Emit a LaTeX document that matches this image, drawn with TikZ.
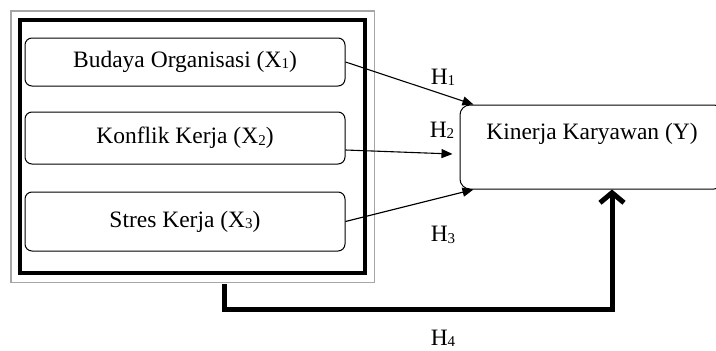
\documentclass[tikz,border=0pt]{standalone}
\usepackage{fontspec}
\setmainfont{Liberation Serif}
\usetikzlibrary{arrows.meta}

\newcommand{\idx}[1]{\raisebox{-0.12ex}{\fontsize{15}{15}\selectfont #1}}

\begin{document}
\begin{tikzpicture}[x=1pt, y=-1pt,
  every node/.style={font=\fontsize{23.5}{28}\selectfont, inner sep=0pt},
  var/.style={draw, rounded corners=7pt, line width=1pt, minimum width=320pt},
  kbox/.style={draw, rounded corners=10pt, line width=1pt, minimum width=264pt,
    text height=30pt, text depth=46pt, inner ysep=4pt},
  frame/.style={draw, line width=4.5pt, minimum width=345pt, minimum height=253pt},
  link/.style={-{Triangle[length=11pt,width=9pt]}, line width=1.1pt},
  bigarrow/.style={-{Straight Barb[length=10pt,width=24pt]}, line width=5pt}
]
\clip (0,0) rectangle (716,351);

% independent variables
\node[frame] (frm) at (192.5,146.5) {};
\draw[gray!70, line width=1.5pt] ([xshift=-7pt,yshift=7pt]frm.north west)
  rectangle ([xshift=7pt,yshift=-7pt]frm.south east);
\node[var, minimum height=48pt] (x1) at (185,62) {Budaya Organisasi (X\idx{1})};
\node[var, minimum height=52pt] (x2) at (185,138) {Konflik Kerja (X\idx{2})};
\node[var, minimum height=59pt] (x3) at (185,221.5) {Stres Kerja (X\idx{3})};

% dependent variable
\node[kbox] (yk) at (592,147) {Kinerja Karyawan (Y)};

% hypotheses
\draw[link] (x1.east) -- ([xshift=14pt]yk.north west);
\draw[link] ([yshift=-12pt]x2.east) -- ([xshift=-7pt,yshift=-7pt]yk.west);
\draw[link] (x3.east) -- ([xshift=14pt]yk.south west);
\draw[bigarrow] ([xshift=207pt,yshift=-9pt]frm.south west) -- ++(0,25.5)
  -| ([xshift=20pt]yk.south);

\node (h1) at (443,77) {H\idx{1}};
\node (h2) at (442,130) {H\idx{2}};
\node (h3) at (443,235) {H\idx{3}};
\node (h4) at (443,338) {H\idx{4}};
\end{tikzpicture}
\end{document}
